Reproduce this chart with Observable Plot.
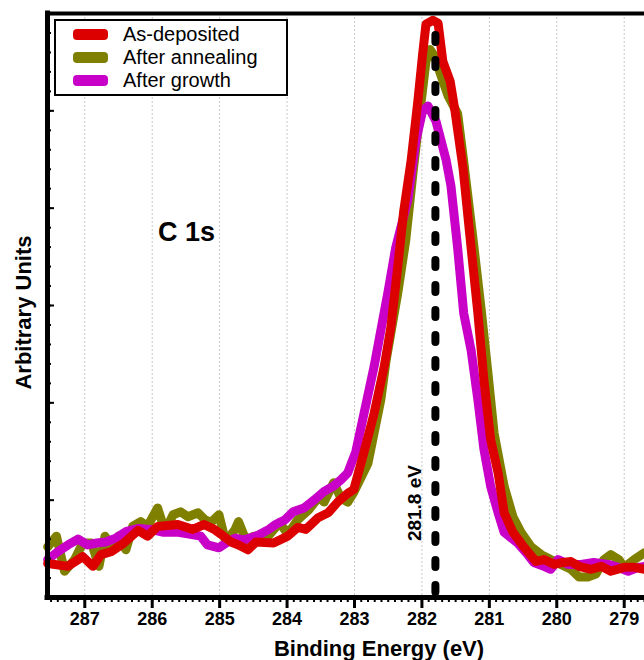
<!DOCTYPE html>
<html>
<head>
<meta charset="utf-8">
<script src="https://cdn.jsdelivr.net/npm/d3@7"></script>
<script src="https://cdn.jsdelivr.net/npm/@observablehq/plot@0.6"></script>
<style>
  body { margin: 0; background: #fff; }
  #chart { position: relative; width: 644px; height: 660px; font-family: "Liberation Sans", Arial, sans-serif; }
  #chart svg { display: block; }
  .legend { position: absolute; left: 54px; top: 19px; width: 230px; height: 73px; border: 2px solid #000; background: #fff; }
  .legend .row { position: absolute; left: 17px; height: 23px; display: flex; align-items: center; font-size: 20px; color: #000; }
  .legend .sw { width: 35px; height: 11px; border-radius: 4px; margin-right: 15px; }
</style>
</head>
<body>
<div id="chart"></div>
<script>
// C 1s core-level spectra: binding energy (eV) vs. intensity (arbitrary units)
const asDepositedEnergy = [287.55, 287.25, 287.03, 286.88, 286.76, 286.61, 286.42, 286.21, 286.07, 285.92,
  285.62, 285.40, 285.23, 285.08, 284.98, 284.83, 284.72, 284.58, 284.46, 284.20, 283.99, 283.84, 283.72,
  283.54, 283.39, 283.25, 283.10, 283.01, 282.86, 282.71, 282.56, 282.46, 282.36, 282.27, 282.16, 282.06,
  281.99, 281.94, 281.84, 281.76, 281.69, 281.58, 281.51, 281.39, 281.27, 281.17, 281.08, 280.98, 280.87,
  280.78, 280.65, 280.49, 280.31, 280.19, 280.04, 279.91, 279.79, 279.67, 279.49, 279.34, 279.20, 279.00,
  278.85, 278.70];
const asDepositedIntensity = [0.35, 0.32, 0.42, 0.32, 0.44, 0.47, 0.56, 0.69, 0.63, 0.73,
  0.75, 0.70, 0.75, 0.70, 0.65, 0.57, 0.54, 0.49, 0.57, 0.56, 0.63, 0.72, 0.70,
  0.82, 0.87, 0.98, 1.07, 1.11, 1.49, 1.89, 2.37, 2.78, 3.39, 3.97, 4.49, 5.10,
  5.58, 5.89, 5.93, 5.90, 5.51, 5.30, 5.00, 4.41, 3.59, 2.92, 2.23, 1.62, 1.28,
  0.87, 0.67, 0.52, 0.37, 0.39, 0.34, 0.36, 0.37, 0.32, 0.29, 0.32, 0.27, 0.31,
  0.31, 0.29];

const annealedEnergy = [287.55, 287.42, 287.30, 287.15, 287.03, 286.90, 286.79, 286.70, 286.60, 286.50,
  286.39, 286.29, 286.17, 286.07, 285.92, 285.81, 285.69, 285.58, 285.47, 285.32, 285.22, 285.13, 285.01,
  284.91, 284.77, 284.72, 284.61, 284.49, 284.28, 284.11, 283.99, 283.84, 283.68, 283.53, 283.45, 283.31,
  283.20, 283.10, 283.01, 282.80, 282.61, 282.53, 282.36, 282.24, 282.13, 282.01, 281.94, 281.88, 281.81,
  281.75, 281.61, 281.47, 281.38, 281.24, 281.12, 281.02, 280.93, 280.78, 280.65, 280.53, 280.38, 280.23,
  280.09, 279.94, 279.79, 279.67, 279.54, 279.42, 279.30, 279.20, 279.08, 279.00, 278.85, 278.70];
const annealedIntensity = [0.52, 0.63, 0.27, 0.39, 0.56, 0.56, 0.32, 0.63, 0.51, 0.63,
  0.49, 0.73, 0.78, 0.73, 0.92, 0.68, 0.85, 0.88, 0.83, 0.87, 0.80, 0.77, 0.85,
  0.57, 0.70, 0.78, 0.59, 0.63, 0.63, 0.77, 0.65, 0.80, 0.90, 1.03, 0.98, 1.18,
  1.02, 0.98, 1.08, 1.38, 2.03, 2.44, 3.12, 3.67, 4.38, 5.10, 5.51, 5.63, 5.56,
  5.43, 5.15, 4.97, 4.48, 3.67, 2.95, 2.30, 1.69, 1.14, 0.83, 0.67, 0.52, 0.44,
  0.39, 0.34, 0.29, 0.21, 0.21, 0.24, 0.39, 0.44, 0.39, 0.31, 0.39, 0.46];

const grownEnergy = [287.55, 287.40, 287.25, 287.10, 286.96, 286.82, 286.69, 286.54, 286.38, 286.20,
  286.02, 285.83, 285.61, 285.43, 285.28, 285.18, 285.01, 284.88, 284.77, 284.64, 284.43, 284.27, 284.17,
  284.03, 283.91, 283.75, 283.60, 283.45, 283.32, 283.20, 283.10, 282.98, 282.71, 282.50, 282.39, 282.21,
  282.09, 281.99, 281.91, 281.79, 281.64, 281.57, 281.47, 281.38, 281.27, 281.17, 281.08, 280.98, 280.87,
  280.78, 280.58, 280.43, 280.34, 280.19, 280.09, 279.98, 279.83, 279.64, 279.45, 279.24, 279.09, 278.94,
  278.79, 278.70];
const grownIntensity = [0.39, 0.47, 0.54, 0.60, 0.54, 0.56, 0.57, 0.61, 0.68, 0.71,
  0.70, 0.67, 0.67, 0.65, 0.63, 0.54, 0.51, 0.57, 0.61, 0.59, 0.64, 0.70, 0.75,
  0.80, 0.88, 0.92, 1.00, 1.09, 1.14, 1.21, 1.28, 1.50, 2.37, 3.15, 3.59, 4.08,
  4.69, 5.00, 5.05, 4.89, 4.49, 4.23, 3.59, 2.92, 2.54, 2.03, 1.52, 1.14, 0.87,
  0.67, 0.56, 0.44, 0.36, 0.32, 0.29, 0.39, 0.34, 0.34, 0.36, 0.34, 0.31, 0.27,
  0.31, 0.32];

const seriesNames = ["As-deposited", "After annealing", "After growth"];
const seriesColors = ["#dc0000", "#808000", "#c800c8"];

const energyTicks = [287, 286, 285, 284, 283, 282, 281, 280, 279];
const minorEnergyTicks = d3.range(2787, 2876).map(d => d / 10);
const intensityTicks = [0, 1, 2, 3, 4, 5, 6];
const minorIntensityTicks = d3.range(0, 31).map(d => d / 5);

const energyDomain = [287.553, 278.699];
const intensityDomain = [0, 6];

const xTitle = "Binding Energy (eV)";
const yTitle = "Arbitrary Units";
const peakEnergy = 281.8;
const coreLevel = "C 1s";

const toRows = (energy, intensity) => energy.map((e, i) => ({energy: e, intensity: intensity[i]}));
const asDeposited = toRows(asDepositedEnergy, asDepositedIntensity);
const annealed = toRows(annealedEnergy, annealedIntensity);
const grown = toRows(grownEnergy, grownIntensity);

const lineStyle = {x: "energy", y: "intensity", strokeWidth: 9, strokeLinejoin: "round", strokeLinecap: "round", curve: "linear"};

const chart = Plot.plot({
  width: 644,
  height: 660,
  marginLeft: 47,
  marginRight: 0,
  marginTop: 13,
  marginBottom: 63,
  style: {fontFamily: "'Liberation Sans', Arial, sans-serif", background: "#fff", color: "#000"},
  x: {domain: energyDomain},
  y: {domain: intensityDomain},
  marks: [
    Plot.gridX(energyTicks, {stroke: "#c8c8c8", strokeOpacity: 1, strokeWidth: 1, strokeDasharray: "2,2"}),
    Plot.line(annealed, {...lineStyle, stroke: seriesColors[1]}),
    Plot.line(grown, {...lineStyle, stroke: seriesColors[2]}),
    Plot.line(asDeposited, {...lineStyle, stroke: seriesColors[0]}),
    Plot.ruleX([{energy: peakEnergy, from: 0, to: 5.87}], {
      x: "energy", y1: "from", y2: "to", stroke: "#000", strokeWidth: 8,
      strokeDasharray: "7,18", strokeDashoffset: 20, strokeLinecap: "round"
    }),
    Plot.text([peakEnergy], {
      x: d => d, y: 0.97, text: d => `${d} eV`, rotate: -90, dx: -21,
      fontSize: 19, fontWeight: "bold", fill: "#000"
    }),
    Plot.text([{energy: 285.49, intensity: 3.75, label: coreLevel}], {
      x: "energy", y: "intensity", text: "label", fontSize: 27, fontWeight: "bold", fill: "#000"
    }),
    // frame: left, bottom and top edges
    Plot.ruleX([energyDomain[0]], {stroke: "#000", strokeWidth: 5, strokeLinecap: "square"}),
    Plot.ruleY([intensityDomain[0]], {stroke: "#000", strokeWidth: 5, strokeLinecap: "square"}),
    Plot.ruleY([intensityDomain[1]], {stroke: "#000", strokeWidth: 4, strokeLinecap: "square"}),
    // bottom axis: minor and major ticks
    Plot.axisX({ticks: minorEnergyTicks, tickSize: 5, strokeWidth: 2, tickFormat: () => "", label: null}),
    Plot.axisX({
      ticks: energyTicks, tickSize: 11, tickPadding: 4, strokeWidth: 3,
      fontSize: 18, fontWeight: "bold", tickFormat: d => `${d}`, label: null
    }),
    // left axis: inward ticks, no values
    Plot.axisY({ticks: minorIntensityTicks, tickSize: 4, dx: 4, strokeWidth: 2, tickFormat: () => "", label: null}),
    Plot.axisY({ticks: intensityTicks, tickSize: 7, dx: 7, strokeWidth: 2, tickFormat: () => "", label: null}),
    // axis titles
    Plot.text([xTitle], {
      frameAnchor: "bottom", text: d => d, dx: 33, dy: 51, lineAnchor: "middle",
      fontSize: 22, fontWeight: "bold", fill: "#000"
    }),
    Plot.text([yTitle], {
      frameAnchor: "left", text: d => d, rotate: -90, dx: -24, dy: 7,
      textAnchor: "middle", lineAnchor: "middle",
      fontSize: 22, fontWeight: "bold", fill: "#000"
    })
  ]
});

const root = document.getElementById("chart");
root.appendChild(chart);

const legend = document.createElement("div");
legend.className = "legend";
seriesNames.forEach((name, i) => {
  const row = document.createElement("div");
  row.className = "row";
  row.style.top = `${1.5 + 23 * i}px`;
  const sw = document.createElement("span");
  sw.className = "sw";
  sw.style.background = seriesColors[i];
  const label = document.createElement("span");
  label.textContent = name;
  row.appendChild(sw);
  row.appendChild(label);
  legend.appendChild(row);
});
root.appendChild(legend);
</script>
</body>
</html>
